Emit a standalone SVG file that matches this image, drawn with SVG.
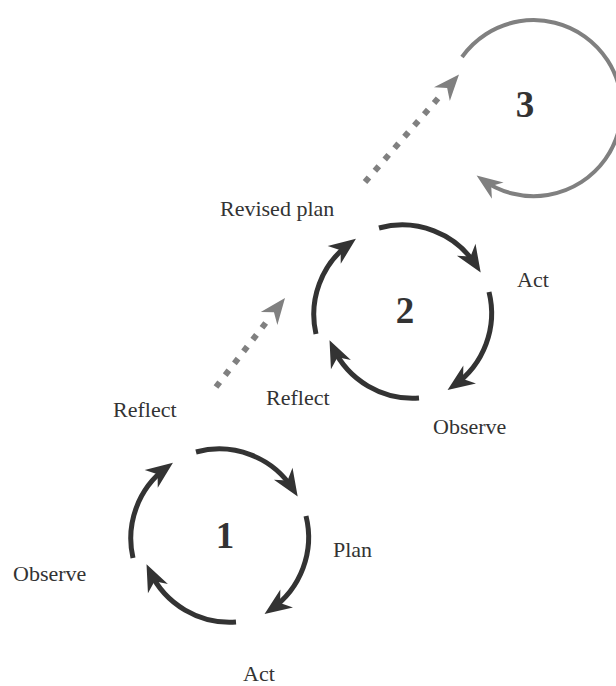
<svg xmlns="http://www.w3.org/2000/svg" width="616" height="686" viewBox="0 0 616 686">
  <style>
    .arc { fill: none; stroke: #333333; stroke-width: 5; marker-end: url(#headDark); }
    .arc3 { fill: none; stroke: #808080; stroke-width: 4; marker-end: url(#headGray); }
    .dots { fill: none; stroke: #808080; stroke-width: 6; stroke-dasharray: 6 9; }
    .lbl { font-family: "Liberation Serif", "Times New Roman", serif; font-size: 22px; fill: #333333; }
    .num { font-family: "Liberation Serif", "Times New Roman", serif; font-size: 37px; font-weight: bold; fill: #333333; text-anchor: middle; }
  </style>
  <defs>
    <marker id="headDark" viewBox="-22 -13 32 26" markerWidth="32" markerHeight="26" refX="0" refY="0" orient="auto" markerUnits="userSpaceOnUse">
      <path d="M8,0 L-19,-11 L-11,0 L-19,11 Z" fill="#333333"/>
    </marker>
    <marker id="headGray" viewBox="-22 -13 32 26" markerWidth="32" markerHeight="26" refX="0" refY="0" orient="auto" markerUnits="userSpaceOnUse">
      <path d="M7,0 L-19,-10 L-11,0 L-19,10 Z" fill="#808080"/>
    </marker>
    <path id="dotHead" d="M0,0 L-26,-10.5 L-18,0 L-26,10.5 Z" fill="#808080"/>
  </defs>

  <g id="cycle1">
    <path class="arc" d="M196,452 A88,88 0 0 1 293.4,489.8"/>
    <path class="arc" d="M306,516 A88,88 0 0 1 271.1,609.3"/>
    <path class="arc" d="M236,622 A88,88 0 0 1 149.9,571.4"/>
    <path class="arc" d="M133,558 A88,88 0 0 1 166.5,467.6"/>
    <text class="num" x="225" y="548">1</text>
  </g>
  <g id="label-plan1"><text class="lbl" x="333" y="557">Plan</text></g>
  <g id="label-act1"><text class="lbl" x="243" y="681">Act</text></g>
  <g id="label-observe1"><text class="lbl" x="13" y="581">Observe</text></g>
  <g id="label-reflect1"><text class="lbl" x="113" y="417">Reflect</text></g>

  <g id="cycle2">
    <path class="arc" d="M379,228 A88,88 0 0 1 476.4,265.8"/>
    <path class="arc" d="M489,292 A88,88 0 0 1 454.1,385.3"/>
    <path class="arc" d="M419,398 A88,88 0 0 1 332.9,347.4"/>
    <path class="arc" d="M316,334 A88,88 0 0 1 349.5,243.6"/>
    <text class="num" x="405" y="323">2</text>
  </g>
  <g id="label-revised"><text class="lbl" x="220" y="216">Revised plan</text></g>
  <g id="label-act2"><text class="lbl" x="517" y="287">Act</text></g>
  <g id="label-observe2"><text class="lbl" x="433" y="434">Observe</text></g>
  <g id="label-reflect2"><text class="lbl" x="266" y="405">Reflect</text></g>

  <g id="cycle3">
    <path class="arc3" d="M462,57 A88,88 0 1 1 482.3,179.6"/>
    <text class="num" x="525" y="117">3</text>
  </g>

  <g id="connectors">
    <path class="dots" d="M216,387 L266.3,322.2"/>
    <use href="#dotHead" transform="translate(285,298) rotate(-52.2)"/>
    <path class="dots" d="M365,182 L438,98.4"/>
    <use href="#dotHead" transform="translate(459,74.5) rotate(-48.9)"/>
  </g>
</svg>
